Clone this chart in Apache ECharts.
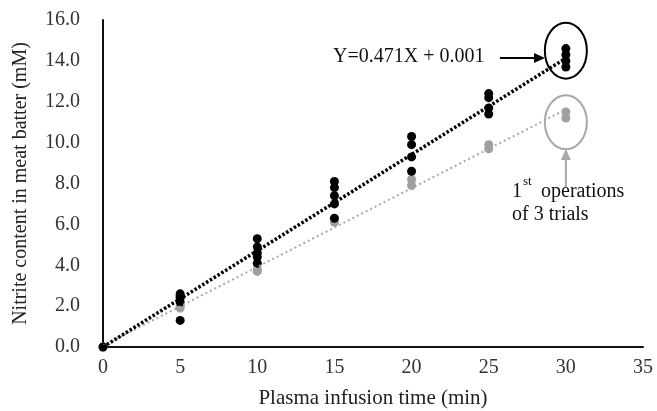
<!DOCTYPE html>
<html>
<head>
<meta charset="utf-8">
<script src="https://cdn.jsdelivr.net/npm/echarts@6/dist/echarts.min.js"></script>
<style>
html, body { margin: 0; padding: 0; background: #fff; }
#main { width: 657px; height: 411px; }
</style>
</head>
<body>
<div id="main"></div>
<script>
var times = [0, 5, 10, 15, 20, 25, 30];
// nitrite (mM) of all operations, per infusion time
var allOps = [
    [0],
    [2.6, 2.5, 2.4, 2.2, 1.3],
    [5.3, 4.9, 4.6, 4.4, 4.1],
    [8.1, 7.8, 7.4, 7.0, 6.3],
    [10.3, 9.9, 9.3, 8.6],
    [12.4, 12.2, 11.7, 11.4],
    [14.6, 14.3, 14.0, 13.7]
];
// 1st operations of 3 trials
var firstOps = [
    [0],
    [2.0, 1.9],
    [3.8, 3.7],
    [6.1],
    [8.2, 7.9],
    [9.9, 9.7],
    [11.5, 11.2]
];
var slope = 0.471, intercept = 0.001;
var eqText = 'Y=0.471X + 0.001';

var font = 'Liberation Serif';

var toPoints = function(groups) {
    var pts = [];
    groups.forEach(function(vals, i) {
        vals.forEach(function(v) { pts.push([times[i], v]); });
    });
    return pts;
};
var blackPts = toPoints(allOps);
var grayPts = toPoints(firstOps);

// least squares for the grey trend
var fit = function(pts) {
    var n = pts.length, sx = 0, sy = 0, sxx = 0, sxy = 0;
    pts.forEach(function(p) { sx += p[0]; sy += p[1]; sxx += p[0] * p[0]; sxy += p[0] * p[1]; });
    var b = (n * sxy - sx * sy) / (n * sxx - sx * sx);
    return { b: b, a: (sy - b * sx) / n };
};
var g = fit(grayPts);
var first = times[0], last = times[times.length - 1];
var blackLine = [[first, intercept + slope * first], [last, intercept + slope * last]];
var grayLine = [[first, g.a + g.b * first], [last, g.a + g.b * last]];

var chart = echarts.init(document.getElementById('main'));
var option = {
    animation: false,
    grid: { left: 103, right: 14, top: 20, bottom: 64, outerBoundsMode: 'none', containLabel: false },
    xAxis: {
        type: 'value', min: 0, max: 35, interval: 5,
        name: 'Plasma infusion time (min)', nameLocation: 'middle', nameGap: 41,
        nameTextStyle: { fontFamily: font, fontSize: 21, color: '#222' },
        axisLine: { lineStyle: { color: '#111', width: 2 } },
        axisTick: { show: false },
        splitLine: { show: false },
        axisLabel: { fontFamily: font, fontSize: 20, color: '#333', margin: 11 }
    },
    yAxis: {
        type: 'value', min: 0, max: 16, interval: 2,
        name: 'Nitrite content in meat batter (mM)', nameLocation: 'middle', nameGap: 72,
        nameTextStyle: { fontFamily: font, fontSize: 20, color: '#222' },
        axisLine: { lineStyle: { color: '#111', width: 2 } },
        axisTick: { show: false },
        splitLine: { show: false },
        axisLabel: {
            fontFamily: font, fontSize: 20, color: '#333', margin: 23,
            formatter: function(v) { return v.toFixed(1); }
        }
    },
    series: [
        {
            type: 'line', data: grayLine, symbol: 'none', silent: true,
            lineStyle: { color: '#a8a8a8', width: 2, type: [2, 3] }
        },
        {
            type: 'line', data: blackLine, symbol: 'none', silent: true,
            lineStyle: { color: '#000', width: 3.5, type: [2.5, 2] }
        },
        {
            type: 'scatter', data: grayPts, symbolSize: 9,
            itemStyle: { color: '#a0a0a0', opacity: 1 }
        },
        {
            type: 'scatter', data: blackPts, symbolSize: 9,
            itemStyle: { color: '#000', opacity: 1 }
        }
    ]
};
chart.setOption(option);

var c1 = chart.convertToPixel({ gridIndex: 0 }, [30, 14.5]);
var c2 = chart.convertToPixel({ gridIndex: 0 }, [30, 11.0]);
chart.setOption({
    graphic: [
        { type: 'ellipse', shape: { cx: c1[0], cy: c1[1], rx: 21, ry: 28 },
          style: { fill: null, stroke: '#000', lineWidth: 2 } },
        { type: 'ellipse', shape: { cx: c2[0], cy: c2[1], rx: 21, ry: 27 },
          style: { fill: null, stroke: '#a8a8a8', lineWidth: 2 } },
        { type: 'text', left: 333, top: 47,
          style: { text: eqText, font: '20px ' + font, fill: '#111' } },
        { type: 'line', shape: { x1: 500, y1: 58, x2: 536, y2: 58 },
          style: { stroke: '#000', lineWidth: 2 } },
        { type: 'polygon', shape: { points: [[545, 58], [534, 53], [534, 63]] },
          style: { fill: '#000' } },
        { type: 'line', shape: { x1: c2[0], y1: 187, x2: c2[0], y2: 158 },
          style: { stroke: '#a8a8a8', lineWidth: 2 } },
        { type: 'polygon', shape: { points: [[c2[0], 149], [c2[0] - 5, 160], [c2[0] + 5, 160]] },
          style: { fill: '#a8a8a8' } },
        { type: 'text', left: 512, top: 182,
          style: { text: '1', font: '20px ' + font, fill: '#111' } },
        { type: 'text', left: 523, top: 175,
          style: { text: 'st', font: '13px ' + font, fill: '#111' } },
        { type: 'text', left: 541, top: 182,
          style: { text: 'operations', font: '20px ' + font, fill: '#111' } },
        { type: 'text', left: 512, top: 205,
          style: { text: 'of 3 trials', font: '20px ' + font, fill: '#111' } }
    ]
});
</script>
</body>
</html>
